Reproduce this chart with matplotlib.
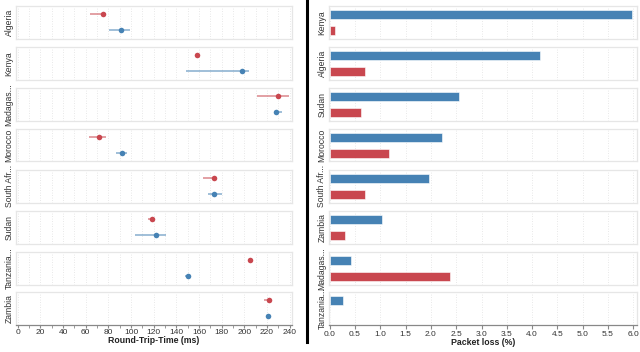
import numpy as np
import matplotlib
matplotlib.use('Agg')
import matplotlib.pyplot as plt

plt.rcParams['font.family'] = ['Liberation Sans', 'DejaVu Sans']

# round-trip-time panel (alphabetical)
rtt_countries = ['Algeria', 'Kenya', 'Madagas...', 'Morocco', 'South Afr...',
                 'Sudan', 'Tanzania...', 'Zambia']
rtt_red = [75.3, 157.9, 229.7, 71.5, 173.2, 118.8, 205.0, 221.5]
rtt_red_lo = [64.1, 157.9, 211.2, 62.6, 163.8, 115.0, 205.0, 217.0]
rtt_red_hi = [77.9, 157.9, 239.7, 77.9, 175.6, 121.2, 205.0, 223.2]
rtt_blue = [91.5, 197.6, 227.9, 92.4, 173.2, 122.1, 150.3, 221.2]
rtt_blue_lo = [80.9, 148.8, 226.2, 86.5, 167.9, 103.5, 147.9, 221.2]
rtt_blue_hi = [98.8, 204.4, 233.2, 96.2, 180.6, 130.9, 152.1, 221.2]

# packet loss panel (sorted by blue)
loss_countries = ['Kenya', 'Algeria', 'Sudan', 'Morocco', 'South Afr...',
                  'Zambia', 'Madagas...', 'Tanzania...']
loss_blue = [5.98, 4.16, 2.56, 2.21, 1.97, 1.035, 0.415, 0.26]
loss_red = [0.105, 0.705, 0.61, 1.17, 0.69, 0.31, 2.37, 0.0]

BLUE = '#4682b4'
RED = '#c9474f'
W, H = 640, 352

fig = plt.figure(figsize=(6.4, 3.52), dpi=100)

row_top = [6, 47, 88, 129, 170, 211, 252, 292]
row_h = 32.5


def facet(x0, x1, top, label, label_x):
    ax = fig.add_axes([x0 / W, 1 - (top + row_h) / H, (x1 - x0) / W, row_h / H])
    ax.set_ylim(1.5, -0.5)
    ax.set_yticks([])
    for s in ax.spines.values():
        s.set_color('#e6e6e6')
        s.set_linewidth(0.9)
    ax.tick_params(axis='x', length=0, labelbottom=False)
    ax.set_axisbelow(True)
    fig.text(label_x / W, 1 - (top + row_h / 2) / H, label, rotation=90,
             ha='center', va='center', fontsize=6.2, color='#333333')
    return ax


# left panel
for i, c in enumerate(rtt_countries):
    ax = facet(16, 292.3, row_top[i], c, 9)
    ax.set_xlim(-1.5, 242.3)
    ax.set_xticks(np.arange(0, 241, 10))
    ax.grid(axis='x', color='#e0e0e0', linestyle=(0, (1, 2)), linewidth=0.6)
    ax.hlines(0, rtt_red_lo[i], rtt_red_hi[i], color=RED, alpha=0.65, lw=1.1)
    ax.hlines(1, rtt_blue_lo[i], rtt_blue_hi[i], color=BLUE, alpha=0.65, lw=1.1)
    ax.plot(rtt_red[i], 0, 'o', color=RED, ms=4, mec='none')
    ax.plot(rtt_blue[i], 1, 'o', color=BLUE, ms=4, mec='none')
    if i == len(rtt_countries) - 1:
        ax.spines['bottom'].set_color('#888888')
        ax.set_xticks(np.arange(0, 241, 20))
        ax.set_xticks(np.arange(0, 241, 10), minor=True)
        ax.tick_params(axis='x', which='both', length=2.5, color='#888888',
                       labelbottom=True, labelsize=6, labelcolor='#333333', pad=1)
        ax.set_xlabel('Round-Trip-Time (ms)', fontsize=6.3, fontweight='bold',
                      color='#222222', labelpad=0)

# right panel
for i, c in enumerate(loss_countries):
    ax = facet(329, 637.3, row_top[i], c, 322)
    ax.set_xlim(-0.015, 6.08)
    ax.set_xticks(np.arange(0, 6.01, 0.5))
    ax.grid(axis='x', color='#e0e0e0', linestyle=(0, (1, 2)), linewidth=0.6)
    ax.barh([0, 1], [loss_blue[i], loss_red[i]], height=0.56,
            color=[BLUE, RED], edgecolor='white', linewidth=0.4)
    if i == len(loss_countries) - 1:
        ax.spines['bottom'].set_color('#888888')
        ax.tick_params(axis='x', length=3, color='#888888', labelbottom=True,
                       labelsize=6, labelcolor='#333333', pad=1.5)
        ax.set_xticklabels(['%.1f' % v for v in np.arange(0, 6.01, 0.5)])
        ax.set_xlabel('Packet loss (%)', fontsize=6.3, fontweight='bold',
                      color='#222222', labelpad=0.5)

# separator
fig.add_artist(plt.Line2D([307 / W, 307 / W], [1, 1 - 342 / H], color='black', lw=2.2))

fig.savefig('out.png', dpi=100)
